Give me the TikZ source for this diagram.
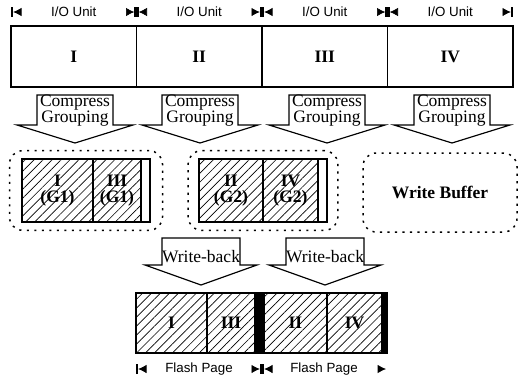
\documentclass[tikz,border=0pt]{standalone}
\usepackage{fontspec}
\setmainfont{Liberation Serif}
\setsansfont{Liberation Sans}
\usetikzlibrary{arrows.meta,positioning,fit,patterns.meta}

% block arrow: centre x, top, shoulder, tip, half body, half head
\newcommand{\fatarrow}[6]{%
  \draw[bigarrow] (#1-#5,#2) -- (#1+#5,#2) -- (#1+#5,#3) -- (#1+#6,#3)
    -- (#1,#4) -- (#1-#6,#3) -- (#1-#5,#3) -- cycle;}

\begin{document}
\begin{tikzpicture}[
    x=0.6pt, y=-0.6pt,
    node distance=0pt,
    every node/.style={outer sep=0pt},
    unit/.style={draw, line width=0.7pt, minimum width=75.3pt, minimum height=36.6pt, font=\fontsize{10.5}{12}\selectfont\bfseries},
    cell/.style={draw, line width=0.7pt, minimum height=37.8pt, inner sep=1pt, align=center,
      pattern={Lines[angle=45,distance=3.8pt,line width=0.4pt]},
      font=\fontsize{10.5}{10}\selectfont\bfseries},
    strip/.style={draw, line width=0.7pt, minimum height=37.8pt, minimum width=5.4pt, inner sep=0pt},
    flash/.style={cell, minimum height=36pt},
    blackbar/.style={draw, fill=black, line width=0.7pt, minimum height=36pt, inner sep=0pt},
    buffer/.style={draw, line width=0.9pt, dash pattern=on 1.3pt off 3.2pt, rounded corners=8pt},
    bigarrow/.style={draw, fill=white, line width=0.7pt, line join=miter},
    arrowtext/.style={align=center, font=\fontsize{10.5}{9.5}\selectfont},
    dimline/.style={draw=white,
      {Bar[black,width=6pt,line width=1.3pt] Latex[black,length=5pt,width=5pt]}-{Latex[black,length=5pt,width=5pt] Bar[black,width=6pt,line width=1.3pt]}},
    dimlast/.style={draw=white,
      {Bar[black,width=6pt,line width=1.3pt] Latex[black,length=5pt,width=5pt]}-{Latex[black,length=5pt,width=5pt]}},
    dimtext/.style={fill=white, inner sep=1pt, font=\sffamily\fontsize{8}{9}\selectfont}
  ]
  \useasboundingbox (0,0) rectangle (519,382);

  % I/O units
  \node[unit, anchor=north west] (u1) at (11,26) {I};
  \node[unit, right=of u1] (u2) {II};
  \node[unit, right=of u2] (u3) {III};
  \node[unit, right=of u3] (u4) {IV};

  \coordinate (io0) at (11,12);
  \coordinate (io1) at (136.5,12);
  \coordinate (io2) at (262,12);
  \coordinate (io3) at (387.5,12);
  \coordinate (io4) at (513,12);
  \draw[dimline] (io0) -- node[dimtext] {I/O Unit} (io1);
  \draw[dimline] (io1) -- node[dimtext] {I/O Unit} (io2);
  \draw[dimline] (io2) -- node[dimtext] {I/O Unit} (io3);
  \draw[dimline] (io3) -- node[dimtext] {I/O Unit} (io4);

  % compress grouping
  \fatarrow{75}{95}{125}{143}{38}{58}
  \fatarrow{200}{95}{125}{143}{38}{58}
  \fatarrow{327}{95}{125}{143}{38}{58}
  \fatarrow{452}{95}{125}{143}{38}{58}
  \node[arrowtext] (cg1) at (75,111) {Compress\\Grouping};
  \node[arrowtext] (cg2) at (200,111) {Compress\\Grouping};
  \node[arrowtext] (cg3) at (327,111) {Compress\\Grouping};
  \node[arrowtext] (cg4) at (452,111) {Compress\\Grouping};

  % groups
  \node[cell, anchor=north west, minimum width=42.6pt] (g1a) at (22,159) {I\\(G1)};
  \node[cell, right=of g1a, minimum width=28.8pt] (g1b) {III\\(G1)};
  \node[strip, right=of g1b] (g1c) {};
  \node[buffer, fit=(g1a)(g1c), inner xsep=7.5pt, inner ysep=5pt] (grp1) {};

  \node[cell, anchor=north west, minimum width=38.4pt] (g2a) at (199,159) {II\\(G2)};
  \node[cell, right=of g2a, minimum width=33pt] (g2b) {IV\\(G2)};
  \node[strip, right=of g2b] (g2c) {};
  \node[buffer, fit=(g2a)(g2c), inner xsep=6.5pt, inner ysep=5pt] (grp2) {};

  \node[buffer, minimum width=92.4pt, minimum height=47.4pt,
    font=\fontsize{10.5}{12}\selectfont\bfseries] (wbuf) at (440,192.5) {Write Buffer};

  % write-back
  \fatarrow{201}{238}{265}{285}{39}{56}
  \fatarrow{325}{238}{265}{285}{39}{56}
  \node[arrowtext] (wb1) at (201,257) {Write-back};
  \node[arrowtext] (wb2) at (325,257) {Write-back};

  % flash pages
  \node[flash, anchor=north west, minimum width=42.6pt] (f1) at (136,293) {I};
  \node[flash, right=of f1, minimum width=28.8pt] (f2) {III};
  \node[blackbar, right=of f2, minimum width=5.4pt] (f3) {};
  \node[flash, right=of f3, minimum width=37.8pt] (f4) {II};
  \node[flash, right=of f4, minimum width=33pt] (f5) {IV};
  \node[blackbar, right=of f5, minimum width=3pt] (f6) {};

  \coordinate (fp0) at (136,369);
  \coordinate (fp1) at (262,369);
  \coordinate (fp2) at (386,369);
  \draw[dimline] (fp0) -- node[dimtext] {Flash Page} (fp1);
  \draw[dimlast] (fp1) -- node[dimtext] {Flash Page} (fp2);
\end{tikzpicture}
\end{document}
